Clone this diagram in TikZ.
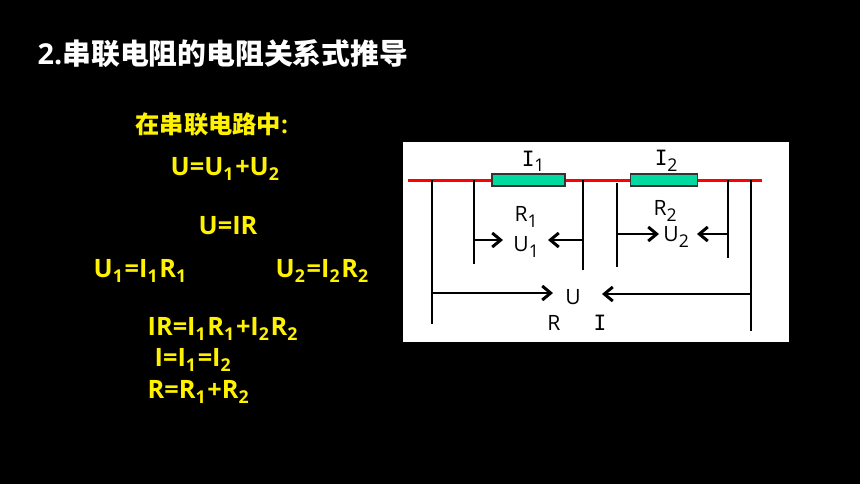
\documentclass[tikz,border=0pt]{standalone}
\usepackage{fontspec}
\setmainfont{Open Sans}
\newfontfamily\cjk{Noto Sans CJK SC}
\newfontfamily\serifI{DejaVu Sans Mono}
\usetikzlibrary{arrows.meta}
\usetikzlibrary{positioning}
\newcommand{\II}{{\serifI I}}
\definecolor{resgreen}{RGB}{0,217,160}
\tikzset{
  headline/.style={text=white,font=\fontsize{8.2pt}{9pt}\bfseries\selectfont,anchor=west,inner sep=0pt},
  formula/.style={text=yellow,font=\fontsize{7.2pt}{8pt}\bfseries\selectfont,anchor=west,inner sep=0pt},
  lbl/.style={text=black,font=\fontsize{6pt}{7pt}\selectfont,inner sep=0pt},
  wire/.style={black,line width=0.8pt},
  arrowline/.style={black,line width=0.65pt,-{Straight Barb[length=2.4pt,width=4pt,line width=0.85pt]}},
  redline/.style={red,line width=0.85pt},
  resistor/.style={draw=black!80,line width=0.3pt,fill=resgreen,minimum height=0.12cm,inner sep=0pt}
}
\begin{document}
\begin{tikzpicture}
\useasboundingbox[fill=black] (0,0) rectangle (8.6,4.84);
\fill[white] (4.03,1.42) rectangle (7.89,3.42);
% left part
\node[headline] (title) at (0.37,4.30) {2.{\cjk 串联电阻的电阻关系式推导}};
\node[formula,font=\fontsize{6.9pt}{8pt}\bfseries\selectfont] (intro) at (1.35,3.60) {{\cjk 在串联电路中}:};
\node[formula] (usum) at (1.70,3.15) {U=U\textsubscript{1}+U\textsubscript{2}};
\node[formula] (uir) at (1.98,2.58) {U=IR};
\node[formula] (uone) at (0.93,2.13) {U\textsubscript{1}=I\textsubscript{1}R\textsubscript{1}};
\node[formula] (utwo) at (2.75,2.13) {U\textsubscript{2}=I\textsubscript{2}R\textsubscript{2}};
\node[formula] (irsum) at (1.47,1.55) {IR=I\textsubscript{1}R\textsubscript{1}+I\textsubscript{2}R\textsubscript{2}};
\node[formula] (ieq) at (1.54,1.24) {I=I\textsubscript{1}=I\textsubscript{2}};
\node[formula] (rsum) at (1.47,0.92) {R=R\textsubscript{1}+R\textsubscript{2}};
% resistors
\node[resistor,minimum width=0.73cm] (Rone) at (5.285,3.04) {};
\node[resistor,minimum width=0.67cm] (Rtwo) at (6.64,3.04) {};
\coordinate (redL) at (4.08,3.04);
\coordinate (redR) at (7.62,3.04);
\draw[redline] (redL) -- (Rone);
\draw[redline] (Rone) -- (Rtwo);
\draw[redline] (Rtwo) -- (redR);
% voltmeter lines, name/x/top/bottom
\foreach \name/\x/\ytop/\ybot in {a/4.32/3.04/1.60,b/4.74/3.04/2.20,c/5.83/3.04/2.14,d/6.17/3.01/2.17,e/7.28/3.04/2.26,f/7.51/3.04/1.53}{
\coordinate (\name top) at (\x,\ytop);
\coordinate (\name bot) at (\x,\ybot);
\draw[wire] (\name top) -- (\name bot);
}
% arrows
\coordinate (aU) at (4.32,1.91);
\coordinate (fU) at (7.51,1.90);
\coordinate (bU) at (4.74,2.44);
\coordinate (cU) at (5.83,2.44);
\coordinate (dU) at (6.17,2.50);
\coordinate (eU) at (7.28,2.50);
\node[lbl] (Ione) at (5.34,3.23) {\II\textsubscript{1}};
\node[lbl] (Itwo) at (6.67,3.23) {\II\textsubscript{2}};
\node[lbl] (Rlone) at (5.27,2.67) {R\textsubscript{1}};
\node[lbl] (Uone) at (5.27,2.37) {U\textsubscript{1}};
\node[lbl] (Rltwo) at (6.66,2.73) {R\textsubscript{2}};
\node[lbl] (Utwo) at (6.77,2.47) {U\textsubscript{2}};
\node[lbl] (U) at (5.73,1.87) {U};
\node[lbl] (R) at (5.54,1.61) {R};
\node[lbl] (I) at (6.00,1.61) {\II};
\draw[arrowline] (aU) -- (5.53,1.91);
\draw[arrowline] (fU) -- (6.02,1.90);
\draw[arrowline] (bU) -- (5.03,2.44);
\draw[arrowline] (cU) -- (5.48,2.44);
\draw[arrowline] (dU) -- (6.59,2.50);
\draw[arrowline] (eU) -- (6.97,2.50);
\end{tikzpicture}
\end{document}
